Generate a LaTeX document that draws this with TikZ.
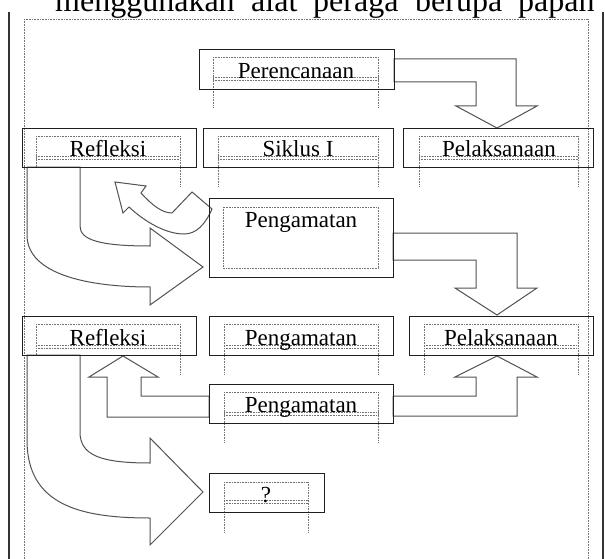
\documentclass[tikz,border=0pt]{standalone}
\usepackage{fontspec}
\setmainfont{Liberation Serif}
\tikzset{
  bx/.style={draw=black!88, line width=1.2pt, anchor=north west, inner sep=0pt},
  lbl/.style={anchor=base, inner sep=0pt, font=\fontsize{23}{23}\selectfont},
  toptxt/.style={anchor=base west, inner sep=0pt, font=\fontsize{32}{32}\selectfont},
  dots/.style={draw=black!55, line width=0.7pt, dash pattern=on 0.7pt off 0.9pt},
  blk/.style={draw=black!68, fill=white, line width=1pt, line join=miter},
  rule/.style={draw=black!80, line width=1.6pt}
}
\newcommand{\tframe}[5]{%
  \draw[dots] (#1,#2) -- (#3,#2);
  \draw[dots] (#1,#2) -- (#1,#5);
  \draw[dots] (#3,#2) -- (#3,#5);
  \draw[dots] (#1,#4) -- (#3,#4);
  \draw[dots] (#1,{#4-2.5}) -- (#3,{#4-2.5});}
\begin{document}
\begin{tikzpicture}[x=1pt,y=-1pt]
\clip (0,0) rectangle (605,559);
\fill[white] (0,0) rectangle (605,559);
% page text (cut at top, as in the scan)
\node[toptxt] (w1) at (55,12) {menggunakan};
\node[toptxt] (w2) at (251,12) {alat};
\node[toptxt] (w3) at (313,12) {peraga};
\node[toptxt] (w4) at (415,12) {berupa};
\node[toptxt] (w5) at (518,12) {papan};
% page rules and outer dotted frame
\draw[rule] (9,12) -- (9,559);
\draw[rule] (603,12) -- (603,559);
\draw[dots] (24,19) -- (588,19);
\draw[dots] (24,19) -- (24,559);
\draw[dots] (588,19) -- (588,559);
% inner text frames
\tframe{213}{57}{378}{80}{107}
\tframe{36}{136}{180}{159}{187}
\tframe{218}{136}{378}{159}{187}
\tframe{419}{136}{578}{159}{187}
\draw[dots] (223,207) rectangle (378,268);
\tframe{36}{324}{180}{348}{375}
\tframe{224}{324}{378}{348}{375}
\tframe{424}{324}{578}{348}{375}
\tframe{224}{392}{378}{415}{442}
\tframe{224}{482}{308}{503}{532}
% block arrows
\draw[blk] (394,59) -- (516,59) -- (516,106) -- (537,106) -- (497,128) -- (456,106) -- (476,106) -- (476,82) -- (394,82) -- cycle;
\draw[blk] (393,233) -- (517,233) -- (517,288) -- (537,288) -- (497,315) -- (455,288) -- (476,288) -- (476,260) -- (393,260) -- cycle;
\draw[blk] (209,417) -- (107,417) -- (107,377) -- (89,377) -- (123,356) -- (158,377) -- (141,377) -- (141,396) -- (209,396) -- cycle;
\draw[blk] (393,396) -- (476,396) -- (476,377) -- (455,377) -- (497,356) -- (537,377) -- (517,377) -- (517,416) -- (393,416) -- cycle;
% curved arrows
\draw[blk] (27,167) -- (27,235) .. controls (27,275) and (90,287) .. (150,287) -- (150,305) -- (203,267) -- (150,228) -- (150,246) .. controls (100,246) and (80,240) .. (80,226) -- (80,167) -- cycle;
\draw[blk] (27,355) -- (27,440) .. controls (27,505) and (80,518) .. (150,518) -- (150,545) -- (203,492) -- (150,438) -- (150,463) .. controls (100,463) and (80,455) .. (80,432) -- (80,355) -- cycle;
\draw[blk] (115,182) -- (146,186) -- (141,193) .. controls (152,205) and (162,213) .. (172,213) -- (192,192) -- (212,209) .. controls (205,225) and (196,234) .. (184,234) .. controls (166,234) and (145,222) .. (129,207) -- (123,213) -- cycle;
% boxes
\node[bx, minimum width=195pt, minimum height=40pt] (per) at (199,49) {};
\node[bx, minimum width=174pt, minimum height=39pt] (ref1) at (22,128) {};
\node[bx, minimum width=190pt, minimum height=39pt] (sik) at (203,128) {};
\node[bx, minimum width=190pt, minimum height=39pt] (pel1) at (403,128) {};
\node[bx, minimum width=184pt, minimum height=79pt] (peng1) at (209,198) {};
\node[bx, minimum width=174pt, minimum height=39pt] (ref2) at (22,316) {};
\node[bx, minimum width=184pt, minimum height=39pt] (peng2) at (209,316) {};
\node[bx, minimum width=184pt, minimum height=39pt] (pel2) at (409,316) {};
\node[bx, minimum width=184pt, minimum height=39pt] (peng3) at (209,384) {};
\node[bx, minimum width=115pt, minimum height=39pt] (q) at (209,473) {};
% labels
\node[lbl] (tper) at (296,79) {Perencanaan};
\node[lbl] (tref1) at (108,157) {Refleksi};
\node[lbl] (tsik) at (298,157) {Siklus I};
\node[lbl] (tpel1) at (499,157) {Pelaksanaan};
\node[lbl] (tpeng1) at (301,227) {Pengamatan};
\node[lbl] (tref2) at (108,345) {Refleksi};
\node[lbl] (tpeng2) at (301,345) {Pengamatan};
\node[lbl] (tpel2) at (501,345) {Pelaksanaan};
\node[lbl] (tpeng3) at (301,412) {Pengamatan};
\node[lbl] (tq) at (266,502) {?};
\end{tikzpicture}
\end{document}
